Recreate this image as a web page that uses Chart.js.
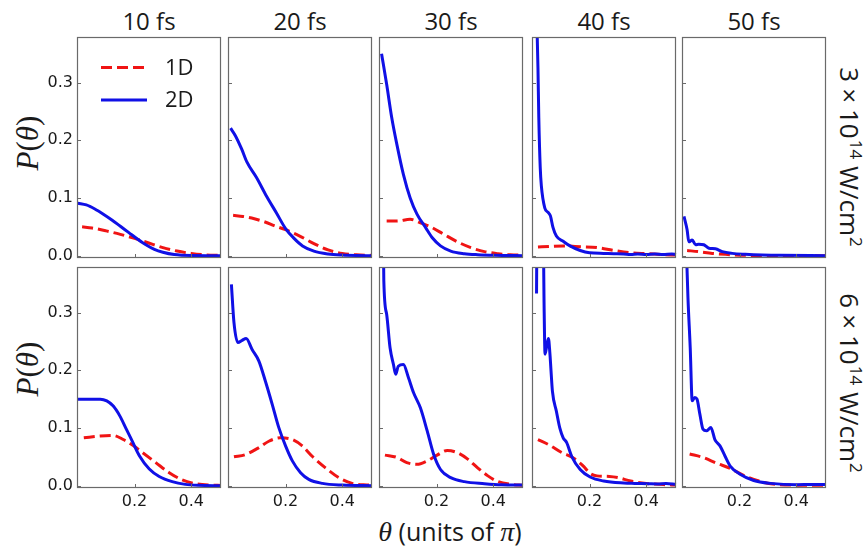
<!DOCTYPE html>
<html><head><meta charset="utf-8">
<script src="https://cdn.jsdelivr.net/npm/chart.js@4.4.1/dist/chart.umd.min.js"></script>
<style>
html,body{margin:0;padding:0;background:#fff;}
#wrap{position:relative;width:865px;height:548px;overflow:hidden;font-family:'Open Sans',sans-serif;color:#111;}
canvas{position:absolute;}
.t{position:absolute;white-space:nowrap;line-height:1;}
.m{font-family:'Liberation Serif',serif;font-style:italic;}
.sup{font-size:17px;position:relative;top:-0.6em;margin-left:1px;}
.op{margin:0 6px;}
</style></head><body><div id="wrap"></div>
<script>
// ---- data: [theta (units of pi), P(theta)] ----
// Row 1: 3 x 10^14 W/cm^2
const r1_10fs_1D = [[0.015,0.050],[0.05,0.048],[0.10,0.043],[0.15,0.037],[0.20,0.030],[0.25,0.022],[0.30,0.014],[0.35,0.008],[0.40,0.004],[0.45,0.0015],[0.505,0.0005]];
const r1_10fs_2D = [[0,0.091],[0.03,0.088],[0.06,0.081],[0.09,0.072],[0.12,0.062],[0.15,0.051],[0.18,0.040],[0.21,0.029],[0.24,0.019],[0.27,0.011],[0.30,0.006],[0.34,0.002],[0.40,0.0003],[0.505,0]];
const r1_20fs_1D = [[0.015,0.070],[0.05,0.068],[0.09,0.064],[0.13,0.058],[0.16,0.052],[0.20,0.045],[0.25,0.034],[0.30,0.021],[0.35,0.010],[0.40,0.004],[0.45,0.0015],[0.505,0.0005]];
const r1_20fs_2D = [[0.006,0.221],[0.023,0.208],[0.045,0.185],[0.064,0.162],[0.098,0.135],[0.133,0.103],[0.168,0.074],[0.20,0.047],[0.23,0.030],[0.26,0.017],[0.30,0.008],[0.35,0.003],[0.40,0.001],[0.45,0.0002],[0.505,0]];
const r1_30fs_1D = [[0.024,0.060],[0.06,0.060],[0.107,0.063],[0.143,0.057],[0.179,0.050],[0.226,0.037],[0.274,0.024],[0.321,0.014],[0.369,0.007],[0.417,0.0035],[0.46,0.0015],[0.505,0.001]];
const r1_30fs_2D = [[0.006,0.350],[0.024,0.297],[0.042,0.239],[0.06,0.193],[0.083,0.141],[0.107,0.100],[0.131,0.072],[0.161,0.049],[0.185,0.031],[0.214,0.017],[0.25,0.008],[0.298,0.0035],[0.345,0.0017],[0.405,0.0006],[0.505,0]];
const r1_40fs_1D = [[0.018,0.015],[0.06,0.016],[0.107,0.017],[0.167,0.0156],[0.226,0.014],[0.286,0.009],[0.345,0.005],[0.405,0.0035],[0.46,0.002],[0.505,0.001]];
const r1_40fs_2D = [[0.012,0.45],[0.018,0.326],[0.021,0.239],[0.026,0.153],[0.030,0.121],[0.042,0.083],[0.054,0.075],[0.062,0.069],[0.071,0.049],[0.083,0.034],[0.107,0.025],[0.131,0.017],[0.167,0.009],[0.20,0.005],[0.25,0.004],[0.286,0.0035],[0.32,0.003],[0.345,0.002],[0.37,0.003],[0.40,0.002],[0.43,0.003],[0.46,0.002],[0.49,0.003],[0.505,0.002]];
const r1_50fs_1D = [[0.015,0.009],[0.056,0.007],[0.104,0.004],[0.15,0.0023],[0.22,0.0006],[0.30,0.0002],[0.505,0]];
const r1_50fs_2D = [[0.004,0.068],[0.015,0.045],[0.021,0.024],[0.033,0.027],[0.045,0.019],[0.056,0.020],[0.074,0.019],[0.092,0.013],[0.115,0.012],[0.139,0.007],[0.174,0.004],[0.22,0.0023],[0.28,0.001],[0.34,0.0006],[0.505,0]];
// Row 2: 6 x 10^14 W/cm^2
const r2_10fs_1D = [[0.021,0.083],[0.079,0.086],[0.125,0.087],[0.16,0.080],[0.194,0.070],[0.229,0.057],[0.275,0.040],[0.321,0.023],[0.368,0.010],[0.414,0.0035],[0.47,0.001],[0.505,0.0005]];
const r2_10fs_2D = [[0,0.150],[0.04,0.150],[0.079,0.150],[0.102,0.147],[0.125,0.138],[0.148,0.121],[0.171,0.098],[0.194,0.075],[0.217,0.052],[0.252,0.029],[0.287,0.016],[0.333,0.007],[0.379,0.0023],[0.425,0.0006],[0.505,0]];
const r2_20fs_1D = [[0.018,0.050],[0.059,0.054],[0.106,0.066],[0.141,0.077],[0.182,0.083],[0.224,0.080],[0.259,0.069],[0.294,0.051],[0.341,0.031],[0.388,0.014],[0.435,0.004],[0.494,0.001]];
const r2_20fs_2D = [[0.009,0.349],[0.018,0.283],[0.032,0.248],[0.047,0.252],[0.061,0.255],[0.082,0.236],[0.106,0.216],[0.129,0.181],[0.153,0.141],[0.176,0.101],[0.20,0.069],[0.224,0.043],[0.253,0.0225],[0.282,0.011],[0.33,0.004],[0.40,0.001],[0.505,0]];
const r2_30fs_1D = [[0.018,0.053],[0.06,0.049],[0.095,0.040],[0.131,0.037],[0.167,0.043],[0.202,0.053],[0.238,0.061],[0.274,0.057],[0.31,0.046],[0.345,0.031],[0.381,0.017],[0.417,0.007],[0.464,0.0023],[0.505,0.0006]];
const r2_30fs_2D = [[0.012,0.45],[0.014,0.355],[0.024,0.297],[0.036,0.239],[0.048,0.210],[0.056,0.193],[0.065,0.207],[0.083,0.210],[0.101,0.187],[0.119,0.161],[0.143,0.135],[0.167,0.095],[0.19,0.054],[0.214,0.028],[0.25,0.014],[0.298,0.007],[0.369,0.0035],[0.43,0.0015],[0.505,0.001]];
const r2_40fs_1D = [[0.018,0.080],[0.06,0.070],[0.10,0.058],[0.143,0.048],[0.18,0.033],[0.20,0.022],[0.226,0.017],[0.27,0.016],[0.30,0.014],[0.345,0.008],[0.40,0.004],[0.46,0.002],[0.505,0.001]];
const r2_40fs_2D = [[0.013,0.333],[0.016,0.55],[0.034,0.55],[0.040,0.30],[0.043,0.228],[0.050,0.245],[0.055,0.255],[0.060,0.230],[0.064,0.20],[0.069,0.164],[0.083,0.129],[0.095,0.100],[0.107,0.083],[0.119,0.075],[0.137,0.051],[0.167,0.028],[0.202,0.015],[0.25,0.008],[0.321,0.0046],[0.36,0.004],[0.405,0.0035],[0.44,0.003],[0.47,0.004],[0.505,0.0023]];
const r2_50fs_1D = [[0.024,0.055],[0.071,0.049],[0.119,0.039],[0.167,0.030],[0.214,0.018],[0.262,0.009],[0.31,0.0035],[0.381,0.001],[0.505,0.0006]];
const r2_50fs_2D = [[0.010,0.45],[0.018,0.326],[0.026,0.239],[0.033,0.147],[0.042,0.153],[0.050,0.150],[0.060,0.124],[0.071,0.098],[0.083,0.095],[0.099,0.101],[0.113,0.080],[0.131,0.069],[0.149,0.051],[0.167,0.034],[0.202,0.020],[0.25,0.009],[0.31,0.004],[0.405,0.0017],[0.45,0.002],[0.505,0.002]];

const panelTitles = ['10 fs','20 fs','30 fs','40 fs','50 fs'];
const rowLabels = ['3<span class="op">×</span>10<span class="sup">14</span> W/cm<span class="sup">2</span>','6<span class="op">×</span>10<span class="sup">14</span> W/cm<span class="sup">2</span>'];
const seriesNames = ['1D','2D'];
const yTickValues = [0.0,0.1,0.2,0.3];
const xTickValues = [0.2,0.4];

const grid = [
  [[r1_10fs_1D,r1_10fs_2D],[r1_20fs_1D,r1_20fs_2D],[r1_30fs_1D,r1_30fs_2D],[r1_40fs_1D,r1_40fs_2D],[r1_50fs_1D,r1_50fs_2D]],
  [[r2_10fs_1D,r2_10fs_2D],[r2_20fs_1D,r2_20fs_2D],[r2_30fs_1D,r2_30fs_2D],[r2_40fs_1D,r2_40fs_2D],[r2_50fs_1D,r2_50fs_2D]]
];

// ---- layout / style ----
const colLeft = [77,228,379,532,682], rowTop = [37,267];
const PW = 144, PH = 221, AXW = 50, AXH = 30, PT = 6, PR = 6;
const XMIN = -0.003, XMAX = 0.505, YMIN = -0.004, YMAX = 0.379;
const RED = '#f01414', BLUE = '#1010e6', FRAME = '#6a6a6a', TXT = '#1a1a1a';
const TICKFONT = {family:'DejaVu Sans', size:16};

const wrap = document.getElementById('wrap');
function addText(html, cx, cy, css, rot){
  const d = document.createElement('div');
  d.className = 't'; d.innerHTML = html;
  d.style.left = cx+'px'; d.style.top = cy+'px';
  d.style.transform = 'translate(-50%,-50%)' + (rot ? ' rotate('+rot+'deg)' : '');
  Object.assign(d.style, css);
  wrap.appendChild(d);
}

panelTitles.forEach((t,c)=>addText(t, colLeft[c]+PW/2, 20.5, {fontSize:'24px', color:TXT}));
addText(rowLabels[0], 850, 157, {fontSize:'26px', color:TXT}, 90);
addText(rowLabels[1], 850, 383, {fontSize:'26px', color:TXT}, 90);
[143,369].forEach(cy=>addText('<span class="m">P</span><span style="font-family:Liberation Serif">(</span><span class="m">θ</span><span style="font-family:Liberation Serif">)</span>', 27, cy, {fontSize:'31px', color:TXT}, -90));
addText('<span class="m" style="font-size:28px">θ</span> (units of <span class="m" style="font-size:28px">π</span>)', 450, 532, {fontSize:'25px', color:TXT});

const framePlugin = {
  id:'frame',
  afterDraw(ch){
    const {ctx, chartArea:a} = ch; const x = ch.scales.x, y = ch.scales.y;
    ctx.save(); ctx.strokeStyle = FRAME; ctx.lineWidth = 1.2;
    ctx.strokeRect(a.left+0.5, a.top+0.5, a.width-1, a.height-1);
    ctx.lineWidth = 1;
    ctx.beginPath();
    y.ticks.forEach(t=>{const py=Math.round(y.getPixelForValue(t.value))+0.5; ctx.moveTo(a.left,py); ctx.lineTo(a.left+4,py);});
    x.ticks.forEach(t=>{const px=Math.round(x.getPixelForValue(t.value))+0.5; ctx.moveTo(px,a.bottom); ctx.lineTo(px,a.bottom-4);});
    ctx.stroke(); ctx.restore();
  }
};
const legendPlugin = {
  id:'innerLegend',
  afterDraw(ch){
    const {ctx, chartArea:a} = ch;
    const rows = [[ch.data.datasets[0], 30.5], [ch.data.datasets[1], 63]];
    ctx.save();
    rows.forEach(([ds, dy])=>{
      ctx.strokeStyle = ds.borderColor; ctx.lineWidth = ds.borderWidth;
      ctx.setLineDash(ds.borderDash || []);
      ctx.beginPath(); ctx.moveTo(a.left+24, a.top+dy); ctx.lineTo(a.left+70, a.top+dy); ctx.stroke();
      ctx.setLineDash([]);
      ctx.fillStyle = TXT; ctx.font = "22px 'Open Sans'"; ctx.textBaseline = 'middle'; ctx.textAlign = 'left';
      ctx.fillText(ds.label, a.left+88, a.top+dy+1);
    });
    ctx.restore();
  }
};

for (let r=0;r<2;r++) for (let c=0;c<5;c++){
  const cv = document.createElement('canvas');
  const W = AXW+PW+PR, H = PT+PH+AXH;
  cv.width = W; cv.height = H;
  cv.style.left = (colLeft[c]-AXW)+'px'; cv.style.top = (rowTop[r]-PT)+'px';
  cv.style.width = W+'px'; cv.style.height = H+'px';
  wrap.appendChild(cv);
  const [d1, d2] = grid[r][c];
  const clip = {left:2, right:2, top:0, bottom:2};
  new Chart(cv, {
    type:'line',
    data:{datasets:[
      {label:seriesNames[0], data:d1.map(([x,y])=>({x,y})), borderColor:RED, borderWidth:3, borderDash:[11,5], pointRadius:0, cubicInterpolationMode:'monotone', clip, order:1, fill:false},
      {label:seriesNames[1], data:d2.map(([x,y])=>({x,y})), borderColor:BLUE, borderWidth:3, pointRadius:0, cubicInterpolationMode:'monotone', clip, order:0, fill:false}
    ]},
    options:{
      responsive:false, animation:false, devicePixelRatio:1,
      layout:{padding:{top:PT, right:PR, left:0, bottom:0}},
      plugins:{legend:{display:false}, tooltip:{enabled:false}},
      scales:{
        x:{type:'linear', min:XMIN, max:XMAX, grid:{display:false, drawTicks:false}, border:{display:false},
           afterBuildTicks:s=>{s.ticks = xTickValues.map(v=>({value:v}));},
           afterFit:s=>{s.height = AXH; s.paddingLeft = 0; s.paddingRight = 0; s.paddingTop = 0; s.paddingBottom = 0;},
           ticks:{display:r===1, padding:4, font:TICKFONT, color:TXT, maxRotation:0, autoSkip:false, callback:v=>v.toFixed(1)}},
        y:{type:'linear', min:YMIN, max:YMAX, grid:{display:false, drawTicks:false}, border:{display:false},
           afterBuildTicks:s=>{s.ticks = yTickValues.map(v=>({value:v}));},
           afterFit:s=>{s.width = AXW; s.paddingTop = 0; s.paddingBottom = 0; s.paddingLeft = 0; s.paddingRight = 0;},
           ticks:{display:c===0, padding:4, font:TICKFONT, color:TXT, autoSkip:false, callback:v=>v.toFixed(1)}}
      }
    },
    plugins: (r===0 && c===0) ? [framePlugin, legendPlugin] : [framePlugin]
  });
}
</script></body></html>
